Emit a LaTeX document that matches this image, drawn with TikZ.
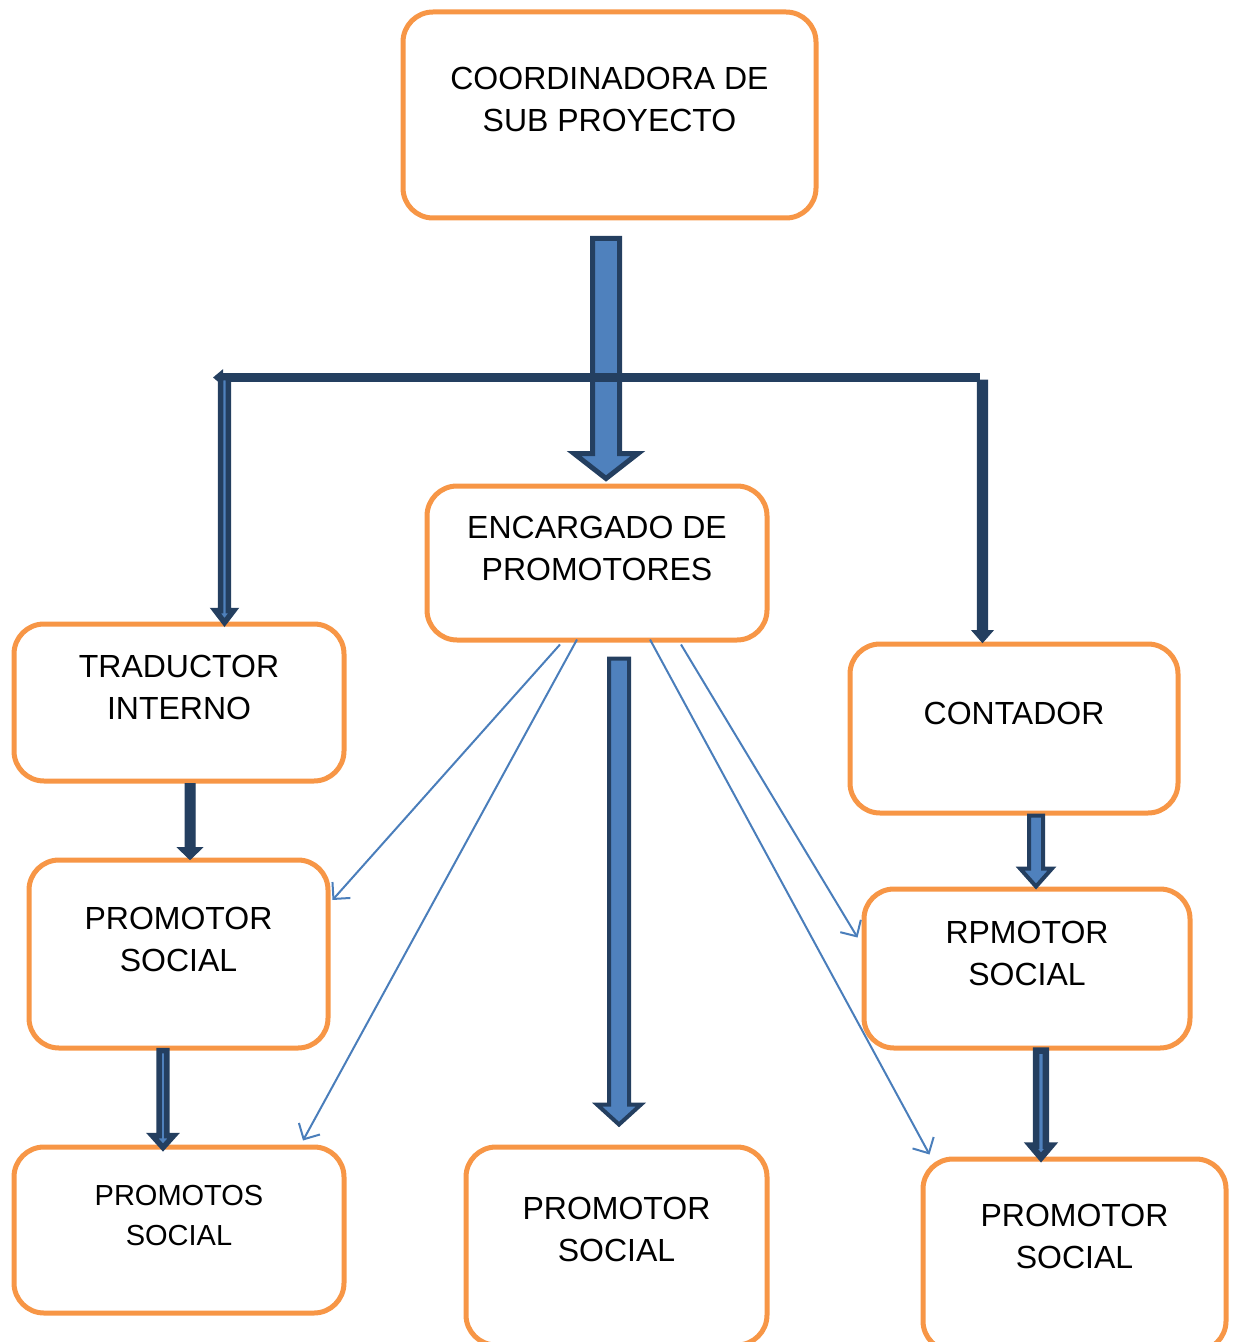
\documentclass[tikz,border=0pt]{standalone}
\usepackage{fontspec}
\setmainfont{Liberation Sans}
\usetikzlibrary{positioning, calc, arrows.meta}

\definecolor{boxorange}{HTML}{F79646}
\definecolor{darknavy}{HTML}{243F60}
\definecolor{midblue}{HTML}{4F81BD}
\definecolor{thinblue}{HTML}{4A7EBB}

% block arrow pointing down: style, from, to, shaft half width, head half width, head length
\newcommand{\blockarrow}[6]{%
  \path[#1] let \p1=(#2), \p2=(#3) in
    (\x1-#4,\y1) -- (\x1+#4,\y1) -- (\x1+#4,\y2+#6) -- (\x1+#5,\y2+#6)
    -- (\x1,\y2) -- (\x1-#5,\y2+#6) -- (\x1-#4,\y2+#6) -- cycle;}

\begin{document}
\begin{tikzpicture}[
  x=0.5pt, y=-0.5pt,
  orgbox/.style={rectangle, rounded corners=15pt, draw=boxorange, fill=white, line width=2.5pt},
  boxtext/.style={align=center, inner sep=0pt, font=\fontsize{16}{21}\selectfont},
  smalltext/.style={boxtext, font=\fontsize{14.5}{20}\selectfont},
  bigarrow/.style={draw=darknavy, fill=midblue, line width=2.5pt, line join=miter},
  midarrow/.style={draw=darknavy, fill=midblue, line width=2pt, line join=miter},
  linearrow/.style={draw=darknavy, fill=midblue, line width=2.75pt, line join=miter},
  solidarrow/.style={draw=darknavy, fill=darknavy, line width=0.5pt},
  hline/.style={darknavy, line width=4.5pt, -{Triangle[length=5pt,width=8pt]}},
  thinarrow/.style={thinblue, line width=1pt, -{Straight Barb[length=6pt,width=12pt]}},
]
\useasboundingbox (0,0) rectangle (1238,1342);

%%% Nodes
\node[orgbox, minimum width=206.5pt, minimum height=103pt] (coord) at (609.5,115) {};
\node[orgbox, minimum width=170pt, minimum height=77pt] (enc) at (597,563) {};
\node[orgbox, minimum width=165pt, minimum height=78.5pt] (trad) at (179,702.5) {};
\node[orgbox, minimum width=164pt, minimum height=84.5pt] (cont) at (1014,728.5) {};
\node[orgbox, minimum width=149.5pt, minimum height=94pt] (prom1) at (178.5,954) {};
\node[orgbox, minimum width=165pt, minimum height=83pt] (prom2) at (179,1230) {};
\node[orgbox, minimum width=150.5pt, minimum height=99pt] (prom3) at (616.5,1246) {};
\node[orgbox, minimum width=163pt, minimum height=79.5pt] (rpm) at (1027,968.5) {};
\node[orgbox, minimum width=151.5pt, minimum height=96pt] (prom4) at (1074.5,1255) {};

\node[boxtext] (coordtxt) at ($(coord)+(0,-16)$) {COORDINADORA DE\\SUB PROYECTO};
\node[boxtext] (enctxt) at ($(enc)+(0,-15)$) {ENCARGADO DE\\PROMOTORES};
\node[boxtext] (tradtxt) at ($(trad)+(0,-15)$) {TRADUCTOR\\INTERNO};
\node[boxtext] (conttxt) at ($(cont)+(0,-15.5)$) {CONTADOR};
\node[boxtext] (prom1txt) at ($(prom1)+(0,-15)$) {PROMOTOR\\SOCIAL};
\node[smalltext] (prom2txt) at ($(prom2)+(0,-14)$) {PROMOTOS\\SOCIAL};
\node[boxtext] (prom3txt) at ($(prom3)+(0,-17)$) {PROMOTOR\\SOCIAL};
\node[boxtext] (rpmtxt) at ($(rpm)+(0,-15)$) {RPMOTOR\\SOCIAL};
\node[boxtext] (prom4txt) at ($(prom4)+(0,-19)$) {PROMOTOR\\SOCIAL};

\coordinate (hubL) at (224.5,377.5);
\coordinate (hubR) at (980,377.5);

%%% Arrows
\blockarrow{bigarrow}{$(coord.south)+(-3.5,18)$}{$(enc.north)+(0,-5)$}{6.75pt}{16pt}{12.5pt}
\draw[hline] (hubR) -- ($(hubL)+(-11.5,0)$);
\blockarrow{linearrow}{hubL}{$(trad.north)+(0,1)$}{1.9pt}{4.6pt}{6pt}
\blockarrow{solidarrow}{$(hubR)+(2.5,2.5)$}{$(cont.north)+(0,1)$}{2.6pt}{5.25pt}{6pt}

\blockarrow{midarrow}{$(enc.south)+(22,16)$}{$(prom3.north)+(0,-20)$}{5pt}{11pt}{10pt}
\blockarrow{solidarrow}{$(trad.south)+(11,0)$}{$(prom1.north)+(0,2)$}{2.5pt}{6.25pt}{6pt}
\blockarrow{linearrow}{$(prom1.south)+(-15.5,0)$}{$(prom2.north)+(0,3)$}{1.9pt}{5.4pt}{6pt}
\blockarrow{midarrow}{$(cont.south)+(22,0)$}{rpm.north}{3.5pt}{8pt}{9pt}
\blockarrow{linearrow, line width=3.25pt}{$(rpm.south)+(14,0)$}{$(prom4.north)+(0,1)$}{2.4pt}{5.1pt}{6pt}

\draw[thinarrow] ($(enc.south)+(-37,2)$) -- ($(prom1.east)+(2,-54)$);
\draw[thinarrow] ($(enc.south)+(-20,-3)$) -- ($(prom2.north)+(124,-4)$);
\draw[thinarrow] ($(enc.south)+(53,-3)$) -- ($(prom4.north west)+(9,-2)$);
\draw[thinarrow] ($(enc.south)+(84,2)$) -- ($(rpm.west)+(-4,-31)$);

\end{tikzpicture}
\end{document}
